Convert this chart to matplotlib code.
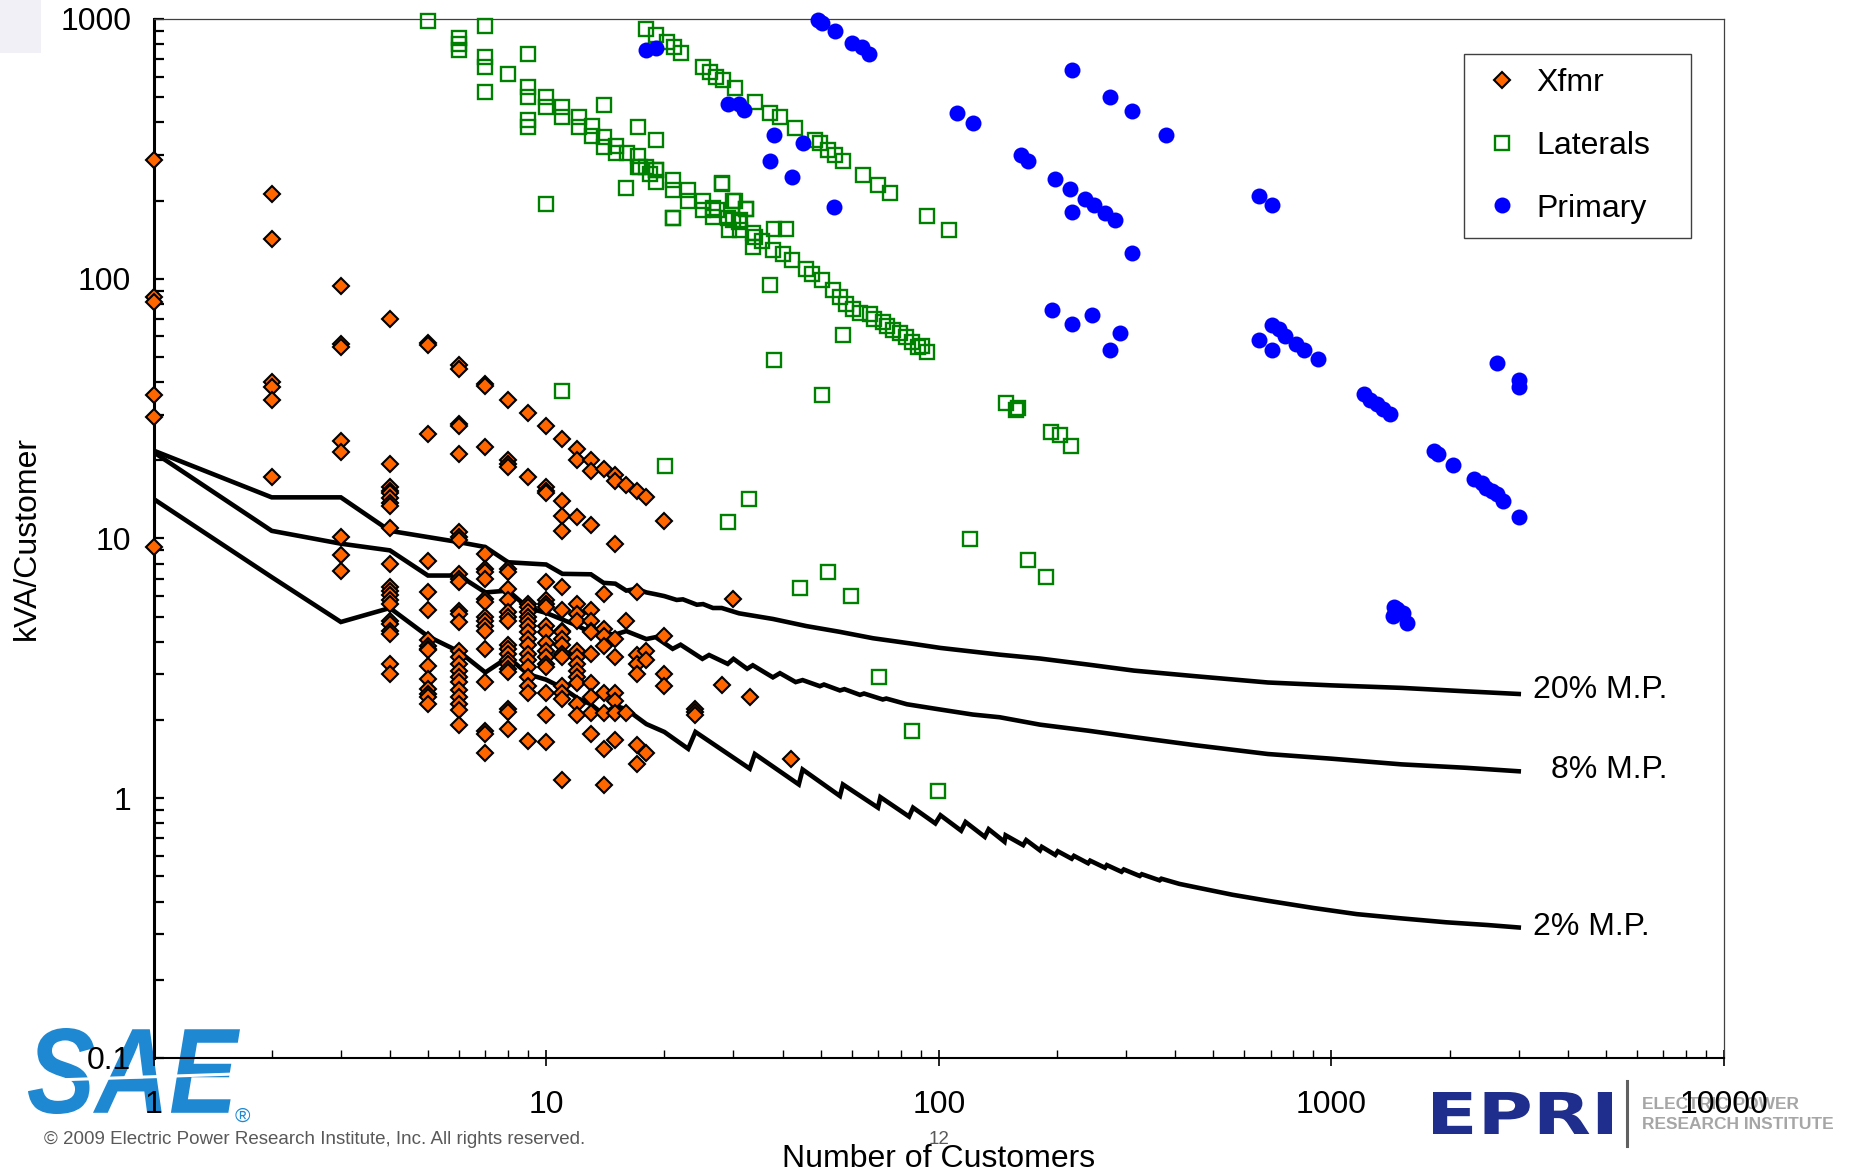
import matplotlib.pyplot as plt
from matplotlib.lines import Line2D
from matplotlib.patches import Rectangle, PathPatch
from matplotlib.textpath import TextPath
from matplotlib.font_manager import FontProperties
from matplotlib.transforms import Affine2D
from matplotlib.ticker import LogLocator, NullFormatter

plt.rcParams['font.family'] = ['Liberation Sans', 'DejaVu Sans']

# Xfmr: kVA/customer, grouped by the number of customers on the transformer
xfmr_customers = [1, 2, 3, 4, 5, 6, 7, 8, 9, 10, 11, 12, 13, 14, 15, 16, 17, 18, 20, 24, 28, 30, 33, 42]
xfmr_kva = [
    [287, 85.1, 81.5, 35.6, 29.4, 9.25],
    [212, 141.6, 40.0, 38.4, 34.0, 17.3],
    [93.6, 56.3, 54.6, 23.8, 21.6, 10.1, 8.6, 7.5],
    [69.8, 19.4, 15.8, 15.3, 14.9, 14.3, 13.7, 13.3, 11.0, 8.0, 6.5, 6.3, 6.05, 5.8, 5.6, 4.8, 4.7, 4.4,
     4.3, 3.3, 3.0],
    [56.4, 55.4, 25.3, 8.2, 6.2, 5.3, 4.05, 3.87, 3.76, 3.71, 3.24, 2.87, 2.63, 2.52, 2.45, 2.31],
    [46.4, 45.0, 27.7, 27.0, 21.2, 10.6, 10.1, 9.85, 7.3, 7.0, 6.8, 5.28, 5.13, 4.76, 3.70, 3.49, 3.30,
     3.10, 2.93, 2.80, 2.60, 2.45, 2.31, 2.18, 1.91],
    [39.5, 38.5, 22.5, 8.73, 7.6, 7.4, 7.0, 5.85, 5.7, 4.97, 4.8, 4.6, 4.4, 3.76, 2.8, 1.82, 1.77, 1.5],
    [34.0, 20.0, 19.4, 18.8, 7.6, 7.4, 6.4, 5.8, 5.2, 4.97, 4.8, 3.9, 3.76, 3.6, 3.4, 3.3, 3.15, 3.05,
     2.2, 2.15, 1.85],
    [30.3, 17.2, 5.6, 5.45, 5.2, 4.97, 4.8, 4.6, 4.35, 4.1, 3.9, 3.6, 3.4, 3.2, 2.93, 2.7, 2.55, 1.66],
    [27.0, 15.8, 15.3, 14.9, 6.8, 5.8, 5.6, 5.45, 4.6, 4.35, 3.95, 3.7, 3.5, 3.3, 3.2, 2.55, 2.1, 1.64],
    [24.2, 14.0, 12.2, 10.7, 6.5, 5.3, 4.4, 4.35, 4.1, 3.9, 3.6, 3.5, 2.7, 2.55, 2.4, 1.18],
    [22.2, 20.0, 12.1, 5.6, 5.1, 4.8, 3.7, 3.5, 3.3, 3.1, 2.93, 2.77, 2.31, 2.1],
    [20.0, 18.2, 11.3, 5.3, 4.8, 4.4, 4.35, 3.6, 2.77, 2.45, 2.12, 1.77],
    [18.5, 6.1, 4.5, 4.2, 3.87, 2.55, 2.12, 1.55, 1.12],
    [17.5, 16.7, 9.5, 4.1, 3.5, 2.55, 2.36, 2.12, 1.68],
    [16.0, 4.8, 2.12],
    [15.3, 6.2, 3.55, 3.3, 3.0, 1.6, 1.35],
    [14.4, 3.7, 3.4, 1.5],
    [11.7, 4.23, 3.0, 2.7],
    [2.2, 2.15, 2.1],
    [2.74],
    [5.85],
    [2.45],
    [1.42],
]

# Laterals: (customers, kVA/customer)
lateral_points = [
    (5.0, 985), (6.0, 842), (6.0, 800), (6.0, 760), (7.0, 940), (7.0, 716), (7.0, 655), (7.0, 525),
    (8.0, 614), (9.0, 733), (9.0, 546), (9.0, 502), (9.0, 408), (9.0, 385), (10.0, 502), (10.0, 459),
    (11.0, 459), (11.0, 420), (12.1, 420), (12.1, 385), (13.1, 387), (13.1, 354), (14.0, 466),
    (14.0, 352), (14.0, 322), (15.1, 324), (15.1, 304), (16.1, 304), (17.1, 385), (17.1, 297),
    (17.1, 270), (19.0, 342), (18.0, 270), (18.4, 254), (19.0, 262), (19.0, 236), (16.0, 224),
    (10.0, 194), (21.1, 240), (21.1, 219), (23.0, 219), (23.0, 200), (21.1, 171), (25.1, 200),
    (25.1, 184), (26.6, 187), (26.6, 173), (28.1, 231), (29.9, 200), (29.9, 168), (29.3, 154),
    (31.1, 168), (31.1, 154), (32.3, 186), (33.6, 150), (33.6, 133),
    # upper diagonal
    (18.0, 913), (19.1, 868), (20.3, 818), (21.2, 783), (22.1, 738), (25.1, 655), (26.1, 627),
    (27.1, 600), (28.2, 582), (30.3, 541), (34.0, 480), (37.1, 435), (39.4, 418), (43.0, 379),
    (48.4, 342), (49.8, 332), (52.3, 313), (54.3, 299), (57.1, 284), (64.2, 250), (70.1, 229),
    (75.0, 214), (93.4, 174), (106, 154),
    # lower diagonal
    (17.3, 270), (19.1, 262), (27.2, 184), (29.0, 171), (31.0, 166), (34.0, 145), (35.5, 140),
    (37.8, 129), (40.0, 124), (42.2, 118), (45.8, 109), (47.5, 104), (50.4, 98.6), (53.9, 90.3),
    (56.0, 85), (58.0, 80), (60.6, 76.8), (63.0, 74), (66.7, 73.4), (68.5, 70), (72.1, 68.2),
    (74.0, 65.5), (76.5, 63.4), (79.5, 62), (82.6, 59.7), (85.5, 57), (88.5, 54.6), (90.5, 55),
    (93.4, 52.2),
    # scattered
    (28.0, 233), (30.3, 200), (32.3, 186), (21.1, 172), (38.1, 156), (40.9, 156), (37.1, 94.4),
    (57.1, 60.6), (38.1, 48.5), (50.4, 35.7), (11.0, 36.9), (148, 33.2), (157, 31.2), (159, 31.8),
    (193, 25.8), (204, 25.0), (217, 22.8), (20.1, 19.0), (29.1, 11.6), (32.8, 14.2), (120, 9.95),
    (169, 8.24), (187, 7.11), (44.2, 6.47), (52.2, 7.41), (59.9, 6.02), (70.3, 2.92), (85.3, 1.82),
    (99.3, 1.07),
]

# Primary: (customers, kVA/customer)
primary_points = [
    (49.2, 990), (50.4, 963), (54.3, 901), (60.1, 810), (63.8, 782), (66.3, 733),
    (18.0, 760), (19.1, 771), (29.0, 470), (31.0, 470), (32.0, 446),
    (38.1, 357), (45.1, 332), (37.1, 284), (42.2, 247), (54.2, 189),
    (111, 433), (122, 396), (218, 636), (273, 499), (310, 444), (380, 358),
    (162, 299), (169, 285), (198, 243), (216, 222), (218, 181), (236, 202), (248, 192), (265, 179),
    (281, 168), (310, 126),
    (194, 75.6), (218, 67.2), (246, 72.8), (289, 61.8), (273, 53.1),
    (653, 208), (706, 192),
    (706, 66.2), (736, 63.8), (762, 60.4), (812, 56.1), (854, 53.0), (924, 48.9), (653, 58.2), (706, 53.4),
    (1213, 36.0), (1257, 34.0), (1305, 32.8), (1356, 31.4), (1406, 30.2),
    (1828, 21.8), (1870, 21.2), (2043, 19.2), (2310, 16.9), (2420, 16.3), (2472, 15.7), (2560, 15.3),
    (2643, 14.8), (2735, 14.0), (3009, 12.1),
    (2643, 47.4), (3009, 40.6), (3009, 38.3),
    (1443, 5.46), (1468, 5.37), (1526, 5.16), (1561, 4.71), (1438, 5.01),
]

# Marginal-probability curves
mp20_x = [1, 2, 3, 4, 6, 7, 8, 10, 11, 13, 14, 15, 16, 17, 18, 19, 20, 21.5, 22.3, 24.2, 25.1, 26.6, 28,
          31, 37.8, 46, 56, 68, 84, 101, 143, 181, 240, 314, 450, 689, 1000, 1510, 2200, 3000]
mp20_y = [21.8, 14.4, 14.4, 10.7, 9.68, 9.27, 8.1, 7.94, 7.31, 7.28, 6.75, 6.7, 6.3, 6.4, 6.2, 6.1, 6.0, 5.8,
          5.83, 5.56, 5.59, 5.4, 5.4, 5.15, 4.9, 4.6, 4.37, 4.13, 3.95, 3.79, 3.57, 3.45, 3.27, 3.1, 2.95,
          2.79, 2.72, 2.66, 2.58, 2.52]

mp8_x = [1, 2, 3, 4, 5, 6, 7, 8, 9, 10, 12, 13, 15, 16, 18, 19, 21, 22, 25, 26, 29, 30, 32.5, 33.6, 37.8,
         39.4, 43.2, 45, 49.8, 51, 56, 57.5, 63, 64.5, 72, 73.5, 83, 100, 122, 143, 181, 240, 314, 450,
         689, 1000, 1510, 2200, 3000]
mp8_y = [21.5, 10.7, 9.55, 9.0, 7.2, 7.2, 6.2, 6.3, 5.4, 5.17, 4.62, 4.34, 4.27, 4.4, 4.1, 4.17, 3.76, 3.9,
         3.44, 3.56, 3.29, 3.44, 3.15, 3.25, 2.92, 3.03, 2.8, 2.85, 2.7, 2.74, 2.6, 2.63, 2.5, 2.53, 2.4,
         2.42, 2.3, 2.2, 2.10, 2.05, 1.92, 1.82, 1.72, 1.6, 1.48, 1.42, 1.35, 1.31, 1.27]

mp2_x = [1, 2, 3, 4, 5, 6, 7, 8, 9, 10, 11, 12, 13, 14, 15, 16, 18, 20, 23, 24, 33, 34, 44, 45, 56, 57, 70,
         71, 84, 86, 98, 101, 114, 117, 131, 134, 147, 148, 164, 167, 181, 183, 198, 201, 218, 221, 240,
         243, 265, 268, 292, 296, 325, 329, 365, 369, 410, 465, 560, 689, 900, 1160, 1500, 1960, 2500, 3000]
mp2_y = [14.2, 7.1, 4.77, 5.4, 4.2, 3.67, 3.05, 3.49, 3.0, 2.86, 2.66, 2.43, 2.3, 2.1, 2.27, 2.2, 1.93, 1.8,
         1.55, 1.8, 1.30, 1.48, 1.13, 1.29, 1.02, 1.13, 0.92, 1.01, 0.85, 0.92, 0.80, 0.86, 0.75, 0.81,
         0.71, 0.76, 0.68, 0.72, 0.66, 0.69, 0.63, 0.65, 0.605, 0.625, 0.585, 0.60, 0.562, 0.575, 0.540,
         0.553, 0.521, 0.532, 0.502, 0.51, 0.483, 0.49, 0.468, 0.450, 0.425, 0.403, 0.378, 0.358, 0.345,
         0.333, 0.325, 0.318]

curve_labels = ['20% M.P.', '8% M.P.', '2% M.P.']
x_ticks = [1, 10, 100, 1000, 10000]
x_tick_labels = ['1', '10', '100', '1000', '10000']
y_ticks = [0.1, 1, 10, 100, 1000]
y_tick_labels = ['0.1', '1', '10', '100', '1000']

FS = 23


def add_logo_text(fig, text, box, color, prop):
    """Draw text as a path stretched into box = (left, top, right, bottom) in figure pixels."""
    tp = TextPath((0, 0), text, size=1, prop=prop)
    ext = tp.get_extents()
    left, top, right, bottom = box
    dpi = fig.dpi
    sx = (right - left) / dpi / ext.width
    sy = (bottom - top) / dpi / ext.height
    tr = (Affine2D().translate(-ext.x0, -ext.y0).scale(sx, sy)
          .translate(left / dpi, fig.get_figheight() - bottom / dpi))
    fig.add_artist(PathPatch(tp, transform=tr + fig.dpi_scale_trans, facecolor=color, lw=0, zorder=-1))


fig = plt.figure(figsize=(18.52, 11.71), dpi=100)
ax = fig.add_axes([0.0829, 0.0965, 0.848, 0.8873])
ax.set_facecolor('none')

# M.P. curves
for cx, cy in [(mp20_x, mp20_y), (mp8_x, mp8_y), (mp2_x, mp2_y)]:
    ax.plot(cx, cy, color='black', lw=3.3, solid_joinstyle='miter', zorder=2)

# scatter series
xf_x = [c for c, vals in zip(xfmr_customers, xfmr_kva) for _ in vals]
xf_y = [v for vals in xfmr_kva for v in vals]
lat_x, lat_y = zip(*lateral_points)
pri_x, pri_y = zip(*primary_points)

h1, = ax.plot(xf_x, xf_y, ls='none', marker='D', ms=7.8, mfc='#FF6600', mec='black', mew=1.5,
              label='Xfmr', zorder=3, clip_on=False)
h2, = ax.plot(lat_x, lat_y, ls='none', marker='s', ms=9.6, mfc='none', mec='#008000', mew=1.7,
              label='Laterals', zorder=3, clip_on=False)
h3, = ax.plot(pri_x, pri_y, ls='none', marker='o', ms=11.5, mfc='#0000FF', mec='#0000FF', mew=0,
              label='Primary', zorder=4, clip_on=False)

ax.set_xscale('log')
ax.set_yscale('log')
ax.set_xlim(1, 10000)
ax.set_ylim(0.1, 1000)

ax.set_xticks(x_ticks, x_tick_labels)
ax.set_yticks(y_ticks, y_tick_labels)
ax.xaxis.set_minor_locator(LogLocator(base=10, subs=range(2, 10), numticks=20))
ax.yaxis.set_minor_locator(LogLocator(base=10, subs=range(2, 10), numticks=20))
ax.xaxis.set_minor_formatter(NullFormatter())
ax.yaxis.set_minor_formatter(NullFormatter())

ax.tick_params(axis='x', which='major', direction='inout', length=11.5, width=1.2, labelsize=FS, pad=17)
ax.tick_params(axis='x', which='minor', direction='in', length=6, width=1.0)
ax.tick_params(axis='y', which='both', direction='in', length=7, width=1.6)
ax.tick_params(axis='y', which='major', labelsize=FS, pad=16)

ax.spines['left'].set_linewidth(2.2)
ax.spines['bottom'].set_linewidth(1.5)
for side in ['top', 'right']:
    ax.spines[side].set_linewidth(0.9)
    ax.spines[side].set_color('#404040')

ax.set_xlabel('Number of Customers', fontsize=FS)
ax.set_ylabel('kVA/Customer', fontsize=FS)
ax.xaxis.set_label_coords(0.5, -0.0825)
ax.yaxis.set_label_coords(-0.0712, 0.5)

# curve end labels
for label, lx, ly in zip(curve_labels, [3260, 3620, 3260], [2.62, 1.28, 0.318]):
    ax.text(lx, ly, label, fontsize=FS, va='center', ha='left', clip_on=False)

ax.legend(handles=[h1, h2, h3], loc='upper left', bbox_to_anchor=(0.8345, 0.70, 0.1445, 0.2663),
          mode='expand', fontsize=FS, frameon=True, fancybox=False, edgecolor='#404040', framealpha=1,
          borderpad=0.45, labelspacing=1.02, handlelength=1.45, handletextpad=0.35, borderaxespad=0,
          numpoints=1)
ax.get_legend().get_frame().set_linewidth(1.0)

# slide decorations (logos, footer)
fig.add_artist(Rectangle((0, 0.955), 0.022, 0.045, transform=fig.transFigure,
                         facecolor='#F0F0F6', lw=0, zorder=-2))

add_logo_text(fig, 'SAE', (28, 1028, 240, 1114), '#1E88D2',
              FontProperties(family='Liberation Sans', weight='bold', style='italic'))
fig.add_artist(Line2D([0.016, 0.130], [0.0770, 0.0830], transform=fig.transFigure, color='white',
                      lw=2.2, zorder=-0.5))
fig.text(0.1307, 0.047, '\u00ae', fontsize=15, color='#1E88D2', ha='center', va='center', zorder=-1)

add_logo_text(fig, 'EPRI', (1433, 1092, 1612, 1134), '#1F2D8C',
              FontProperties(family='DejaVu Sans', weight='bold'))
fig.add_artist(Line2D([0.8785, 0.8785], [0.021, 0.077], transform=fig.transFigure, color='#606060',
                      lw=2.2, zorder=-1))
fig.text(0.8865, 0.0485, 'ELECTRIC POWER\nRESEARCH INSTITUTE', fontsize=12.5, fontweight='bold',
         color='#A6A6A6', ha='left', va='center', linespacing=1.4, zorder=-1)

fig.text(0.024, 0.027, '\u00a9 2009 Electric Power Research Institute, Inc. All rights reserved.',
         fontsize=13.5, color='#595959', ha='left', va='center')
fig.text(0.507, 0.027, '12', fontsize=13.5, color='#595959', ha='center', va='center', zorder=-1)

fig.savefig('out.png', dpi=100)
